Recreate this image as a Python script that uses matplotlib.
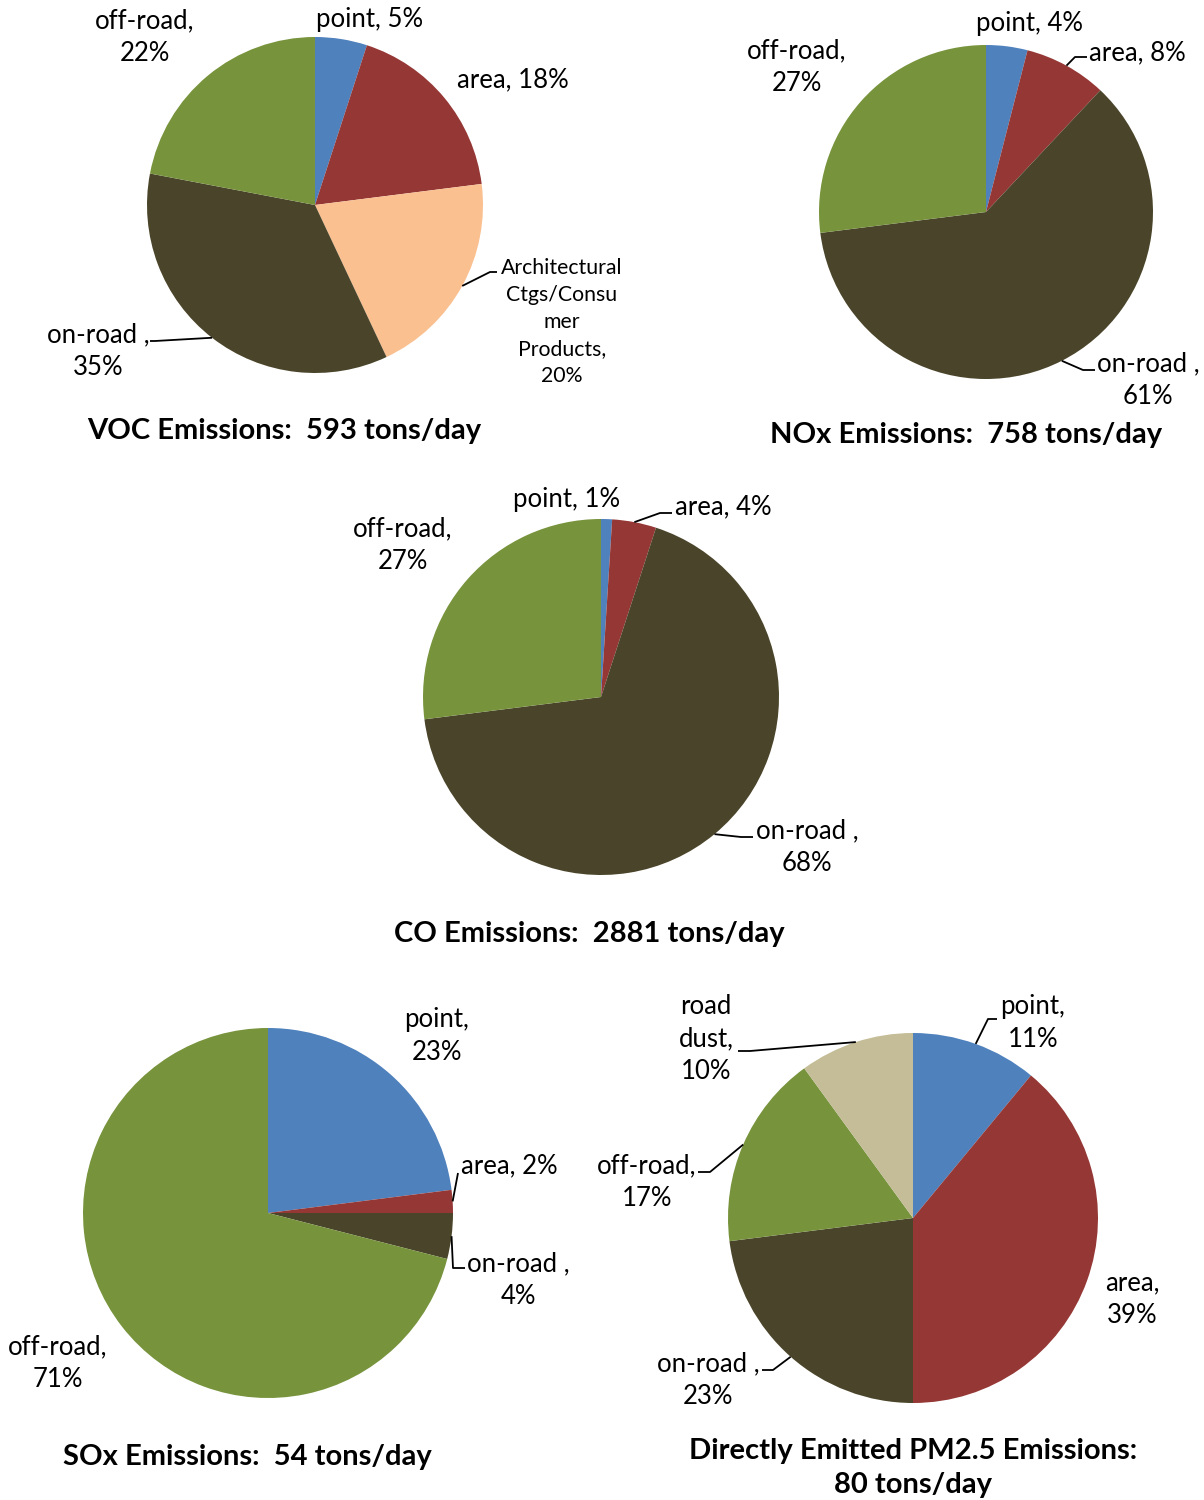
import numpy as np
import matplotlib
matplotlib.use("Agg")
import matplotlib.pyplot as plt

plt.rcParams['font.family'] = ['Lato', 'DejaVu Sans']

W, H = 1204, 1500

# colours used by the source spreadsheet
c_point = '#4F81BD'
c_area = '#953735'
c_arch = '#FAC090'
c_onroad = '#4A452A'
c_offroad = '#77933C'
c_dust = '#C4BD97'

# emission shares (percent), clockwise from 12 o'clock
voc_labels = ['point, 5%', 'area, 18%',
              'Architectural\nCtgs/Consu\nmer\nProducts,\n20%',
              'on-road ,\n35%', 'off-road,\n22%']
voc_values = [5, 18, 20, 35, 22]
voc_colors = [c_point, c_area, c_arch, c_onroad, c_offroad]

nox_labels = ['point, 4%', 'area, 8%', 'on-road ,\n61%', 'off-road,\n27%']
nox_values = [4, 8, 61, 27]

co_labels = ['point, 1%', 'area, 4%', 'on-road ,\n68%', 'off-road,\n27%']
co_values = [1, 4, 68, 27]

sox_labels = ['point,\n23%', 'area, 2%', 'on-road ,\n4%', 'off-road,\n71%']
sox_values = [23, 2, 4, 71]

pm_labels = ['point,\n11%', 'area,\n39%', 'on-road ,\n23%', 'off-road,\n17%',
             'road\ndust,\n10%']
pm_values = [11, 39, 23, 17, 10]
pm_colors = [c_point, c_area, c_onroad, c_offroad, c_dust]

std_colors = [c_point, c_area, c_onroad, c_offroad]

titles = ['VOC Emissions:  593 tons/day',
          'NOx Emissions:  758 tons/day',
          'CO Emissions:  2881 tons/day',
          'SOx Emissions:  54 tons/day',
          'Directly Emitted PM2.5 Emissions:\n80 tons/day']

fig = plt.figure(figsize=(W / 100, H / 100), dpi=100)


def pie_at(cx, cy, r, values, colors):
    ax = fig.add_axes([(cx - r) / W, 1 - (cy + r) / H, 2 * r / W, 2 * r / H])
    ax.pie(values, colors=colors, startangle=90, counterclock=False,
           radius=1, wedgeprops=dict(linewidth=0))
    ax.set_xlim(-1, 1)
    ax.set_ylim(-1, 1)
    ax.set_aspect('equal')
    ax.axis('off')
    return (cx, cy, r, values)


def edge_point(pie, i):
    cx, cy, r, values = pie
    cum = np.cumsum([0] + list(values)) / float(sum(values))
    ang = (cum[i] + cum[i + 1]) / 2 * 2 * np.pi
    return cx + r * np.sin(ang), cy - r * np.cos(ang)


pies = {}
pies['voc'] = pie_at(315, 205, 168, voc_values, voc_colors)
pies['nox'] = pie_at(986, 212, 167, nox_values, std_colors)
pies['co'] = pie_at(601, 697, 178, co_values, std_colors)
pies['sox'] = pie_at(268, 1213, 185, sox_values, std_colors)
pies['pm'] = pie_at(913, 1218, 185, pm_values, pm_colors)

ov = fig.add_axes([0, 0, 1, 1])
ov.set_xlim(0, W)
ov.set_ylim(H, 0)
ov.axis('off')

fs = 18.5
dy = 2  # Lato sits a little high compared with the original font
# label texts: (pie, index, x, y)
label_pos = [
    ('voc', 0, 370, 17), ('voc', 1, 513, 78), ('voc', 3, 98, 349),
    ('voc', 4, 145, 35),
    ('nox', 0, 1030, 21), ('nox', 1, 1137, 51), ('nox', 2, 1148, 378),
    ('nox', 3, 797, 65),
    ('co', 0, 567, 497), ('co', 1, 723, 505), ('co', 2, 807, 845),
    ('co', 3, 403, 543),
    ('sox', 0, 437, 1034), ('sox', 1, 509, 1164), ('sox', 2, 518, 1278),
    ('sox', 3, 58, 1361),
    ('pm', 0, 1033, 1021), ('pm', 1, 1132, 1297), ('pm', 2, 708, 1378),
    ('pm', 3, 647, 1180), ('pm', 4, 706, 1037),
]
all_labels = {'voc': voc_labels, 'nox': nox_labels, 'co': co_labels,
              'sox': sox_labels, 'pm': pm_labels}
for key, i, x, y in label_pos:
    ov.text(x, y + dy, all_labels[key][i], ha='center', va='center',
            fontsize=fs, linespacing=1.38, color='black')

ov.text(562, 320 + dy, voc_labels[2], ha='center', va='center', fontsize=15.3,
        linespacing=1.45, color='black')

# leader lines: start on the slice edge, then elbow, then end
leaders = [
    ('voc', 2, (490, 272), (497, 272)),
    ('voc', 3, (155, 341), (150, 341)),
    ('nox', 1, (1075, 57), (1087, 57)),
    ('nox', 2, (1083, 370), (1095, 370)),
    ('co', 1, (660, 513), (672, 513)),
    ('co', 2, (741, 837), (753, 837)),
    ('sox', 1, (458, 1173), (458, 1173)),
    ('sox', 2, (453, 1268), (465, 1268)),
    ('pm', 0, (988, 1019), (997, 1019)),
    ('pm', 2, (773, 1370), (762, 1370)),
    ('pm', 3, (710, 1172), (698, 1172)),
    ('pm', 4, (750, 1051), (738, 1051)),
]
for key, i, elbow, end in leaders:
    sx, sy = edge_point(pies[key], i)
    ov.plot([sx, elbow[0], end[0]], [sy, elbow[1], end[1]], color='black',
            lw=1.3, solid_capstyle='butt')

title_pos = [(284, 429), (966, 433), (589, 932), (247, 1455), (913, 1466)]
for t, (x, y) in zip(titles, title_pos):
    ov.text(x, y + dy, t, ha='center', va='center', fontsize=21,
            fontweight='bold', linespacing=1.38, color='black')

fig.savefig('out.png', dpi=100)
